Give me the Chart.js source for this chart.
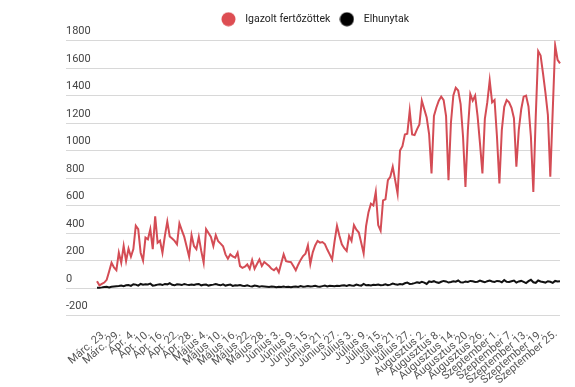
<!DOCTYPE html>
<html>
<head>
<meta charset="utf-8">
<script src="https://cdn.jsdelivr.net/npm/chart.js@4/dist/chart.umd.min.js"></script>
<style>
  html, body { margin: 0; padding: 0; background: #fff; }
  #wrap { width: 575px; height: 387px; }
</style>
</head>
<body>
<div id="wrap"><canvas id="covidChart"></canvas></div>
<script>
// months shown on the x axis (Hungarian), first day and number of days in the series
const monthNames = ['Márc.', 'Ápr.', 'Május', 'Június', 'Július', 'Augusztus', 'Szeptember'];
const monthFirstDay = [23, 1, 1, 1, 1, 1, 1];
const monthDays = [9, 30, 31, 30, 31, 31, 30];
const labelEvery = 6;

// daily confirmed cases, Márc. 23 - Szept. 30
const cases = [
  50, 20, 30, 40, 60, 120, 184, 150, 130, 257,
  184, 306, 196, 287, 228, 283, 453, 428, 257, 200,
  367, 355, 428, 283, 522, 330, 345, 257, 380, 483,
  375, 360, 343, 318, 470, 420, 372, 300, 228, 385,
  306, 283, 372, 270, 184, 428, 400, 372, 306, 385,
  340, 323, 304, 245, 213, 245, 230, 221, 257, 160,
  147, 155, 172, 140, 204, 140, 175, 208, 160, 189,
  175, 160, 140, 130, 147, 115, 180, 245, 196, 192,
  189, 160, 130, 170, 205, 233, 250, 310, 175, 260,
  310, 343, 330, 335, 320, 280, 245, 208, 340, 453,
  380, 318, 290, 270, 380, 343, 458, 424, 404, 330,
  252, 450, 552, 613, 600, 698, 458, 417, 637, 645,
  785, 809, 882, 785, 686, 1000, 1032, 1117, 1122, 1289,
  1117, 1112, 1154, 1190, 1362, 1301, 1240, 1120, 834, 1252,
  1313, 1362, 1392, 1367, 1250, 785, 1200, 1400, 1456, 1436,
  1338, 1100, 736, 1150, 1411, 1362, 1399, 1250, 1050, 834,
  1230, 1350, 1510, 1350, 1367, 1100, 760, 1150, 1318, 1367,
  1350, 1310, 1235, 882, 1150, 1300, 1392, 1399, 1320, 1100,
  698, 1250, 1722, 1690, 1560, 1420, 1260, 809, 1290, 1764,
  1660, 1634
];

// daily deaths
const deaths = [
  2, 3, 5, 8, 9, 4, 10, 12, 14,
  15, 18, 14, 20, 22, 16, 28, 25, 18, 30, 24, 27, 26, 32, 18, 20, 25, 28, 22, 30,
  27, 35, 24, 20, 28, 26, 22, 30, 25, 23,
  25, 22, 28, 30, 20, 24, 26, 18, 22, 25, 30, 24, 20, 27, 18, 22, 25, 16, 20, 18,
  22, 17, 15, 20, 14, 12, 18, 15, 10, 14, 12,
  10, 8, 12, 9, 6, 10, 8, 12, 7, 9, 6, 10, 12, 8, 14, 10, 12, 15, 11, 13,
  16, 12, 10, 14, 18, 12, 16, 15, 13, 17,
  15, 18, 20, 16, 22, 19, 17, 25, 21, 18, 30, 20, 22, 19, 24, 22, 26, 20, 23, 28,
  21, 25, 33, 28, 24, 30, 26, 35, 40, 30, 32,
  36, 42, 38, 45, 40, 30, 48, 44, 50, 42, 38, 46, 52, 48, 40, 44, 50, 46, 55, 42,
  40, 48, 45, 52, 50, 44, 46, 54, 48, 42, 50,
  55, 48, 45, 52, 50, 42, 58, 46, 44, 50, 55, 40, 48, 52, 45, 36, 50, 60, 42, 38,
  55, 48, 44, 40, 50, 46, 38, 52, 48, 50
];

const seriesNames = ['Igazolt fertőzöttek', 'Elhunytak'];
const yTicks = { min: -200, max: 1800, step: 200 };

// build the daily category labels
const labels = [];
monthNames.forEach((m, i) => {
  for (let d = 0; d < monthDays[i]; d++) {
    labels.push(m + ' ' + (monthFirstDay[i] + d) + '.');
  }
});

const RED = '#d44c55';
const GRID = '#d8d8d8';

// round legend marker, drawn once so the gap to the text can be wider than the dot
function dot(color) {
  const c = document.createElement('canvas');
  c.width = 15;
  c.height = 15;
  const g = c.getContext('2d');
  g.fillStyle = color;
  g.beginPath();
  g.arc(7.5, 7.5, 7, 0, Math.PI * 2);
  g.fill();
  return c;
}

// extra space under the legend
const legendGap = {
  id: 'legendGap',
  beforeInit(chart) {
    const fit = chart.legend.fit;
    chart.legend.fit = function () {
      fit.bind(chart.legend)();
      this.height += 6;
    };
  }
};

const ctx = document.getElementById('covidChart').getContext('2d');
new Chart(ctx, {
  type: 'line',
  data: {
    labels,
    datasets: [
      {
        label: seriesNames[0],
        data: cases,
        borderColor: RED,
        backgroundColor: RED,
        borderWidth: 2,
        pointRadius: 0,
        tension: 0,
        pointStyle: dot('#dd4d52')
      },
      {
        label: seriesNames[1],
        data: deaths,
        borderColor: '#111',
        backgroundColor: '#000',
        borderWidth: 2,
        pointRadius: 0,
        tension: 0,
        pointStyle: dot('#000')
      }
    ]
  },
  options: {
    responsive: true,
    maintainAspectRatio: false,
    animation: false,
    layout: { padding: { left: 66, right: 15, top: 9, bottom: 0 } },
    plugins: {
      legend: {
        position: 'top',
        labels: {
          usePointStyle: true,
          pointStyleWidth: 23,
          boxHeight: 11,
          padding: 5,
          color: '#222',
          font: { family: 'Roboto', size: 10.5 }
        }
      },
      tooltip: { enabled: false }
    },
    scales: {
      x: {
        afterFit: (scale) => { scale.height -= 4; },
        grid: { display: false },
        border: { display: false },
        ticks: {
          autoSkip: false,
          minRotation: 40,
          maxRotation: 40,
          padding: 4,
          labelOffset: 8,
          color: '#555',
          font: { family: 'Roboto', size: 11 },
          callback: (val, i) => (i % labelEvery === 0 ? labels[i] : null)
        }
      },
      y: {
        min: yTicks.min,
        max: yTicks.max,
        afterFit: (scale) => { scale.width = 31; },
        border: { display: false },
        grid: { color: GRID, lineWidth: 1, tickLength: 31, drawTicks: true },
        ticks: {
          stepSize: yTicks.step,
          crossAlign: 'far',
          labelOffset: -9,
          color: '#444',
          font: { family: 'Roboto', size: 11 },
          callback: (v) => String(v)
        }
      }
    }
  },
  plugins: [legendGap]
});
</script>
</body>
</html>
